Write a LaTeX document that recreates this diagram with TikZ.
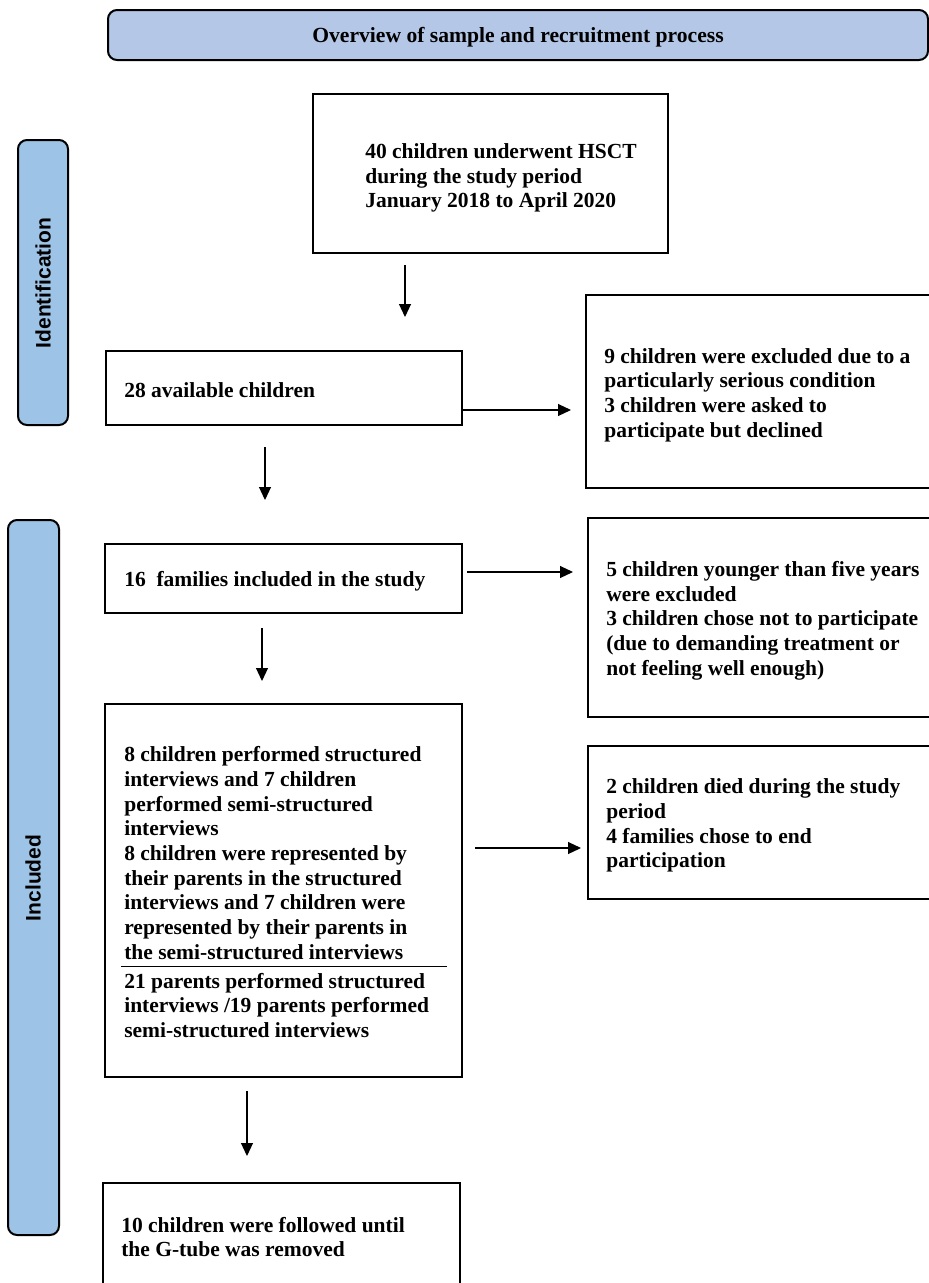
\documentclass[tikz,border=0pt]{standalone}
\usepackage{fontspec}
\setmainfont{Liberation Serif}
\newfontfamily\labelfont{Liberation Sans}
\usetikzlibrary{arrows.meta,calc}
\definecolor{titleblue}{HTML}{B4C7E7}
\definecolor{sideblue}{HTML}{9DC3E6}
\begin{document}
\begin{tikzpicture}[x=1pt,y=-1pt,
  box/.style={draw, line width=1.8pt, inner sep=0pt},
  txt/.style={inner sep=0pt, align=left, anchor=west,
    font=\bfseries\fontsize{21.5pt}{24.7pt}\selectfont},
  band/.style={draw, line width=2pt, rounded corners=9pt, inner sep=0pt},
  bandtext/.style={rotate=90, inner sep=0pt,
    font=\labelfont\bfseries\fontsize{21pt}{24pt}\selectfont},
  flow/.style={line width=1.1pt, -{Triangle[length=13pt,width=12pt]}},
]
\useasboundingbox (0,0) rectangle (929,1283);
\clip (0,0) rectangle (929,1283);

% title bar
\node[band, fill=titleblue, minimum width=820pt, minimum height=50pt] (title) at (518,35) {};
\node[inner sep=0pt, font=\bfseries\fontsize{21.6pt}{24pt}\selectfont] (titletext) at (518,37) {Overview of sample and recruitment process};

% side bands
\node[band, fill=sideblue, minimum width=50pt, minimum height=285pt] (ident) at (43,282.5) {};
\node[bandtext] (identtext) at (43,283) {Identification};
\node[band, fill=sideblue, minimum width=51pt, minimum height=715pt] (incl) at (33.5,877.5) {};
\node[bandtext] (incltext) at (33,878) {Included};

% main column
\node[box, minimum width=355pt, minimum height=159pt] (A) at (490.5,173.5) {};
\node[txt] (tA) at ($(A.west)+(53,4.5)$) {40 children underwent HSCT\\during the study period\\January 2018 to April 2020};

\node[box, minimum width=356pt, minimum height=74pt] (B) at (284,388) {};
\node[txt] (tB) at ($(B.west)+(19,2)$) {28 available children};

\node[box, minimum width=357pt, minimum height=69pt] (D) at (283.5,578.5) {};
\node[txt] (tD) at ($(D.west)+(20,3)$) {16\ \ families included in the study};

\node[box, minimum width=357pt, minimum height=373pt] (F) at (283.5,890.5) {};
\node[txt] (tF1) at ($(F.west)+(20,-37.5)$) {8 children performed structured\\interviews and 7 children\\performed semi-structured\\interviews\\8 children were represented by\\their parents in the structured\\interviews and 7 children were\\represented by their parents in\\the semi-structured interviews};
\coordinate (sepL) at (121,966);
\coordinate (sepR) at (447,966);
\draw[line width=1pt] (sepL) -- (sepR);
\node[txt] (tF2) at ($(F.west)+(20,115)$) {21 parents performed structured\\interviews /19 parents performed\\semi-structured interviews};

\node[box, minimum width=357pt, minimum height=110pt] (H) at (281.5,1238) {};
\node[txt] (tH) at ($(H.west)+(19,-1)$) {10 children were followed until\\the G-tube was removed};

% right column
\node[box, minimum width=360pt, minimum height=193pt] (C) at (766,391.5) {};
\node[txt] (tC) at ($(C.west)+(19,3.5)$) {9 children were excluded due to a\\particularly serious condition\\3 children were asked to\\participate but declined};

\node[box, minimum width=360pt, minimum height=199pt] (E) at (768,617.5) {};
\node[txt] (tE) at ($(E.west)+(19,3)$) {5 children younger than five years\\were excluded\\3 children chose not to participate\\(due to demanding treatment or\\not feeling well enough)};

\node[box, minimum width=360pt, minimum height=153pt] (G) at (768,822.5) {};
\node[txt] (tG) at ($(G.west)+(19,3)$) {2 children died during the study\\period\\4 families chose to end\\participation};

% connectors
\coordinate (a1) at (405,265);  \coordinate (a2) at (405,317);
\coordinate (b1) at (463,410);  \coordinate (b2) at (571,410);
\coordinate (c1) at (265,447);  \coordinate (c2) at (265,500);
\coordinate (d1) at (467,572);  \coordinate (d2) at (573,572);
\coordinate (e1) at (262,628);  \coordinate (e2) at (262,681);
\coordinate (f1) at (475,848);  \coordinate (f2) at (581,848);
\coordinate (g1) at (247,1091); \coordinate (g2) at (247,1156);
\draw[flow] (a1) -- (a2);
\draw[flow] (b1) -- (b2);
\draw[flow] (c1) -- (c2);
\draw[flow] (d1) -- (d2);
\draw[flow] (e1) -- (e2);
\draw[flow] (f1) -- (f2);
\draw[flow] (g1) -- (g2);
\end{tikzpicture}
\end{document}
